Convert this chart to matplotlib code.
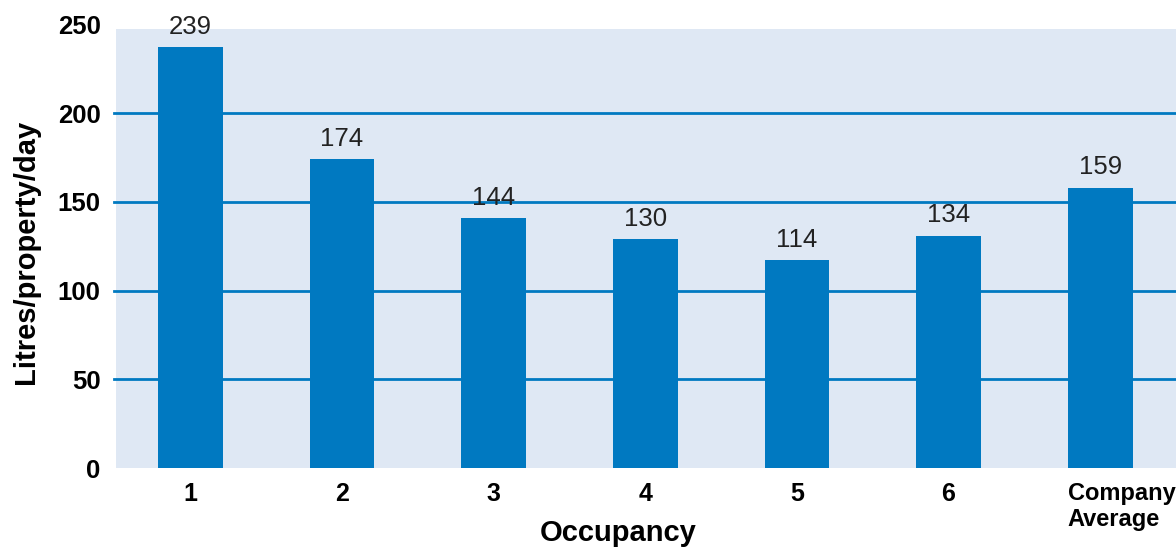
import matplotlib
matplotlib.use("Agg")
import matplotlib.pyplot as plt
import matplotlib.transforms as mtransforms

categories = ["1", "2", "3", "4", "5", "6", "Company\nAverage"]
bar_values = [237, 174, 141, 129, 117, 131, 158]
value_labels = ["239", "174", "144", "130", "114", "134", "159"]
y_ticks = [0, 50, 100, 150, 200, 250]

BAR_COLOR = "#0079c1"
GRID_COLOR = "#0079c1"
BG_COLOR = "#dfe8f4"

plt.rcParams["font.family"] = ["Liberation Sans", "DejaVu Sans"]

fig = plt.figure(figsize=(11.76, 5.49), dpi=100)
ax = fig.add_axes([116 / 1176, 1 - 468 / 549, 1 - 116 / 1176, (468 - 24.3) / 549])
ax.set_facecolor("none")
ax.set_ylim(0, 250)
ax.set_xlim(-0.49, 6.5)

# background panel (stops slightly below 250)
ax.axhspan(0, 247.5, color=BG_COLOR, zorder=0, lw=0)

for t in y_ticks[1:-1]:
    ax.axhline(t, xmin=-0.002, xmax=1, color=GRID_COLOR, lw=2, zorder=1, clip_on=False)

x = list(range(len(categories)))
ax.bar(x, bar_values, width=0.427, color=BAR_COLOR, zorder=2)

for xi, v, lab in zip(x, bar_values, value_labels):
    ax.annotate(lab, (xi, v), xytext=(0, 14.5), textcoords="offset points",
                ha="center", va="center", fontsize=18.5, color="#222222")

for s in ax.spines.values():
    s.set_visible(False)

ax.set_yticks(y_ticks)
ax.set_yticklabels([str(t) for t in y_ticks], fontsize=18.5, fontweight="bold")
ax.tick_params(axis="y", length=0, pad=11)

ax.set_xticks(x)
ax.set_xticklabels(categories, fontsize=18, fontweight="bold")
ax.tick_params(axis="x", length=0, pad=10)
for lbl in ax.get_xticklabels():
    if "Company" in lbl.get_text():
        lbl.set_ha("left")
        lbl.set_linespacing(1.2)
        lbl.set_fontsize(17)

# shift the last label to start at the bar's left edge
last = ax.get_xticklabels()[-1]
last.set_transform(last.get_transform() + mtransforms.ScaledTranslation(-0.3245, 0, fig.dpi_scale_trans))

ax.set_xlabel("Occupancy", fontsize=21, fontweight="bold")
ax.xaxis.set_label_coords((618 - 116) / 1060, (468 - 533) / 443.7)
ax.xaxis.label.set_va("center")
ax.set_ylabel("Litres/property/day", fontsize=21, fontweight="bold")
ax.yaxis.set_label_coords((26 - 116) / 1060, (468 - 252) / 443.7)
ax.yaxis.label.set_va("center")

fig.savefig("out.png", dpi=100)
